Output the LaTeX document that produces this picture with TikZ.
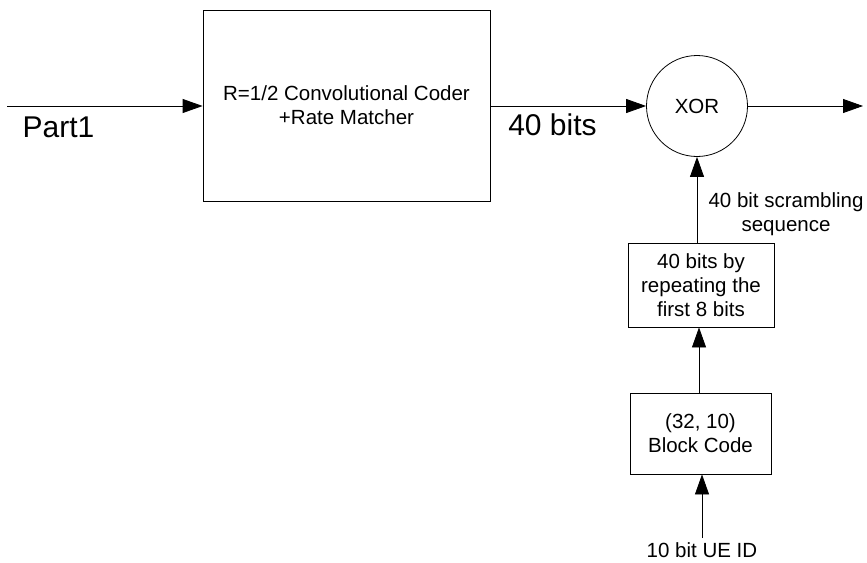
\documentclass[tikz,border=0pt]{standalone}
\usepackage{fontspec}
\setmainfont{Liberation Sans}
\usetikzlibrary{arrows.meta}

\begin{document}
\begin{tikzpicture}[x=1pt, y=-1pt, line width=0.8pt,
    blockbox/.style = {draw, rectangle, align=center, font=\fontsize{20.5}{24}\selectfont},
    xorgate/.style = {draw, circle, minimum size=101pt, inner sep=0pt, font=\fontsize{20.5}{24}\selectfont},
    bigtext/.style = {font=\fontsize{30}{36}\selectfont, inner sep=0pt},
    smalltext/.style = {align=center, font=\fontsize{20.5}{24}\selectfont, inner sep=0pt},
    flow/.style = {-{Triangle[length=20pt, width=14pt]}}]
  \useasboundingbox (0,0) rectangle (867,562);

  \coordinate (in)  at (7,106);
  \coordinate (out) at (863,106);
  \node (coder) at (346.5,105.5) [blockbox, minimum width=287pt, minimum height=191pt]
    {R=1/2 Convolutional Coder\\+Rate Matcher};
  \node (xor)   at (697,106) [xorgate] {XOR};
  \node (rep)   at (701,285) [blockbox, minimum width=146pt, minimum height=84pt]
    {40 bits by\\repeating the\\first 8 bits};
  \node (blk)   at (700.5,433.5) [blockbox, minimum width=141pt, minimum height=81pt]
    {(32, 10)\\Block Code};
  \node (uid)   at (702,557) [smalltext, anchor=base] {10 bit UE ID};
  \coordinate (uidtop) at (702,538);

  % labels
  \node (part)  at (58.5,137.5) [bigtext, anchor=base] {Part1};
  \node (nbits) at (552.5,135) [bigtext, anchor=base] {40 bits};
  \node (seq)   at (786,214) [smalltext] {40 bit scrambling\\sequence};

  % connectors
  \draw [flow] (in) -- (coder.west |- in);
  \draw [flow] (coder.east |- in) -- (xor.west);
  \draw [flow] (xor.east) -- (out);
  \draw [flow] (rep.north -| xor) -- (xor.south);
  \draw [flow] (blk.north -| 699,0) -- (rep.south -| 699,0);
  \draw [flow] (uidtop) -- (blk.south -| uidtop);
\end{tikzpicture}
\end{document}
